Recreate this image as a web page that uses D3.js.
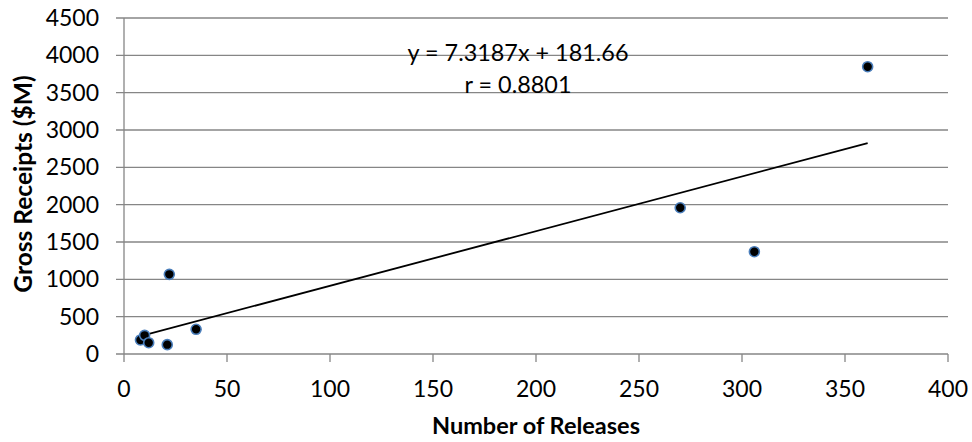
<!DOCTYPE html>
<html lang="en">
<head>
    <meta charset="UTF-8">
    <title>Gross Receipts vs Number of Releases</title>
    <script src="https://d3js.org/d3.v7.min.js"></script>
    <style>
        body { margin: 0; background: #fff; }
        svg { display: block; }
        text { font-family: 'Lato', sans-serif; fill: #000; }
    </style>
</head>
<body>
<div id="chart"></div>
<script>
    // data
    const releases = [8, 10, 12, 21, 35, 22, 270, 306, 361];
    const receipts = [188, 250, 151, 125, 331, 1067, 1959, 1370, 3848];
    const xTicks = [0, 50, 100, 150, 200, 250, 300, 350, 400];
    const yTicks = [0, 500, 1000, 1500, 2000, 2500, 3000, 3500, 4000, 4500];
    // trendline as printed on the chart
    const slope = 7.3187, intercept = 181.66;
    const eqLabel = "y = 7.3187x + 181.66";
    const rLabel = "r = 0.8801";

    let width = 972, height = 442;
    let svg = d3.select("#chart").append("svg")
        .attr("width", width)
        .attr("height", height);

    let x = d3.scaleLinear().domain([0, 400]).range([124, 948]);
    let y = d3.scaleLinear().domain([0, 4500]).range([354, 18]);
    const grey = "#868686";

    // horizontal gridlines (with the little tick stubs on the left)
    svg.append("g").selectAll("line")
        .data(yTicks)
        .enter().append("line")
        .attr("x1", 116).attr("x2", x(400))
        .attr("y1", d => y(d)).attr("y2", d => y(d))
        .attr("stroke", grey).attr("stroke-width", 1.3);

    // y axis line
    svg.append("line")
        .attr("x1", x(0)).attr("x2", x(0))
        .attr("y1", y(4500)).attr("y2", y(0))
        .attr("stroke", grey).attr("stroke-width", 1.3);

    // x tick stubs
    svg.append("g").selectAll("line")
        .data(xTicks)
        .enter().append("line")
        .attr("x1", d => x(d)).attr("x2", d => x(d))
        .attr("y1", y(0)).attr("y2", y(0) + 8)
        .attr("stroke", grey).attr("stroke-width", 1.3);

    // tick labels
    svg.append("g").selectAll("text")
        .data(yTicks)
        .enter().append("text")
        .attr("x", 99).attr("y", d => y(d))
        .attr("dy", "0.35em")
        .attr("text-anchor", "end")
        .style("font-size", "23px")
        .text(d => d);

    svg.append("g").selectAll("text")
        .data(xTicks)
        .enter().append("text")
        .attr("x", d => x(d)).attr("y", 389)
        .attr("dy", "0.35em")
        .attr("text-anchor", "middle")
        .style("font-size", "23px")
        .text(d => d);

    // axis titles
    svg.append("text")
        .attr("x", 536).attr("y", 434)
        .attr("text-anchor", "middle")
        .style("font-size", "23.5px")
        .style("font-weight", "bold")
        .text("Number of Releases");

    svg.append("text")
        .attr("transform", "translate(23,184) rotate(-90)")
        .attr("dy", "0.35em")
        .attr("text-anchor", "middle")
        .style("font-size", "24.5px")
        .style("font-weight", "bold")
        .text("Gross Receipts ($M)");

    // trendline over the data range
    let xMin = d3.min(releases), xMax = d3.max(releases);
    svg.append("line")
        .attr("x1", x(xMin)).attr("y1", y(slope * xMin + intercept))
        .attr("x2", x(xMax)).attr("y2", y(slope * xMax + intercept))
        .attr("stroke", "#000").attr("stroke-width", 1.8);

    // points
    svg.append("g").selectAll("circle")
        .data(releases.map((r, i) => [r, receipts[i]]))
        .enter().append("circle")
        .attr("cx", d => x(d[0]))
        .attr("cy", d => y(d[1]))
        .attr("r", 5)
        .attr("fill", "#000")
        .attr("stroke", "#4a7ebb")
        .attr("stroke-width", 1.6);

    // equation labels
    svg.append("text")
        .attr("x", 518).attr("y", 53)
        .attr("dy", "0.35em")
        .attr("text-anchor", "middle")
        .style("font-size", "23.4px")
        .text(eqLabel);

    svg.append("text")
        .attr("x", 518).attr("y", 85)
        .attr("dy", "0.35em")
        .attr("text-anchor", "middle")
        .style("font-size", "23.4px")
        .text(rLabel);
</script>
</body>
</html>
